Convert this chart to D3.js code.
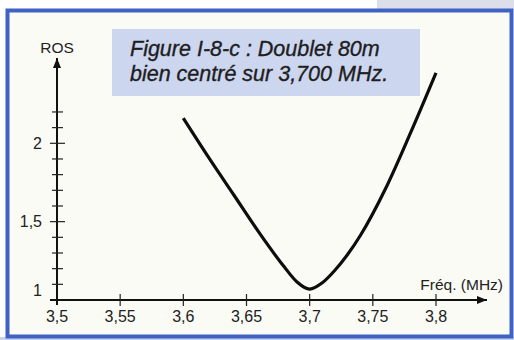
<!DOCTYPE html>
<html>
<head>
<meta charset="utf-8">
<script src="https://cdn.jsdelivr.net/npm/d3@7"></script>
<style>
  html, body { margin: 0; padding: 0; background: #ffffff; }
  svg { display: block; }
</style>
</head>
<body>
<svg id="chart" width="514" height="340"></svg>
<script>
// VSWR (ROS) of an 80 m dipole versus frequency (MHz)
const freq = [3.60, 3.62, 3.64, 3.66, 3.68, 3.69, 3.70, 3.71, 3.72, 3.73, 3.74, 3.76, 3.78, 3.80];
const ros  = [2.16, 1.91, 1.67, 1.43, 1.21, 1.115, 1.07, 1.11, 1.19, 1.29, 1.41, 1.71, 2.07, 2.45];

const xTicks = [3.5, 3.55, 3.6, 3.65, 3.7, 3.75, 3.8];
const xTickLabels = ["3,5", "3,55", "3,6", "3,65", "3,7", "3,75", "3,8"];
const yMinorTicks = [1.1, 1.2, 1.3, 1.4, 1.5, 1.6, 1.7, 1.8, 1.9, 2.0, 2.1, 2.2];
const yTicks = [1, 1.5, 2];
const yTickLabels = ["1", "1,5", "2"];

const titleLines = ["Figure I-8-c : Doublet 80m", "bien centré sur 3,700 MHz."];

const svg = d3.select("#chart");
const font = "'Liberation Sans', Arial, Helvetica, sans-serif";

const x = d3.scaleLinear().domain([3.5, 3.8]).range([57, 436]);
const y = d3.scaleLinear().domain([1, 2]).range([300, 143.3]);

// page band and framed panel
svg.append("rect").attr("x", 377).attr("y", 0).attr("width", 137).attr("height", 10)
  .attr("fill", "#dcdfea");
svg.append("rect").attr("x", 0).attr("y", 337).attr("width", 514).attr("height", 3)
  .attr("fill", "#c9d3ec");
svg.append("rect")
  .attr("x", 7.5).attr("y", 10.5).attr("width", 504).attr("height", 326)
  .attr("fill", "#fbfbf5")
  .attr("stroke", "#3f62c4").attr("stroke-width", 4);

// title box
svg.append("rect").attr("x", 112).attr("y", 29).attr("width", 308).attr("height", 67)
  .attr("fill", "#cdd6ef");
svg.append("g").selectAll("text").data(titleLines).join("text")
  .attr("x", 130).attr("y", (d, i) => 56 + i * 25)
  .attr("font-family", font).attr("font-style", "italic")
  .attr("font-size", 21.5).attr("fill", "#1e1e22")
  .attr("stroke", "#1e1e22").attr("stroke-width", 0.35)
  .text(d => d);

// arrow heads
const defs = svg.append("defs");
defs.append("marker").attr("id", "arrow")
  .attr("viewBox", "0 0 10 8").attr("refX", 10).attr("refY", 4)
  .attr("markerWidth", 10).attr("markerHeight", 8)
  .attr("markerUnits", "userSpaceOnUse").attr("orient", "auto")
  .append("path").attr("d", "M0,0 L10,4 L0,8 Z").attr("fill", "#111");

// x axis
const xAxis = svg.append("g");
xAxis.append("line")
  .attr("x1", 50).attr("x2", 487).attr("y1", y(1)).attr("y2", y(1))
  .attr("stroke", "#111").attr("stroke-width", 2).attr("marker-end", "url(#arrow)");
xAxis.selectAll(".xt").data(xTicks.slice(1)).join("line")
  .attr("x1", d => x(d)).attr("x2", d => x(d))
  .attr("y1", y(1) - 6).attr("y2", y(1) + 6)
  .attr("stroke", "#222").attr("stroke-width", 1.2);
xAxis.selectAll(".xl").data(xTicks).join("text")
  .attr("x", d => x(d)).attr("y", 322)
  .attr("text-anchor", "middle")
  .attr("font-family", font).attr("font-size", 16).attr("fill", "#222")
  .text((d, i) => xTickLabels[i]);
xAxis.append("text").attr("x", 503).attr("y", 290).attr("text-anchor", "end")
  .attr("font-family", font).attr("font-size", 15.5).attr("fill", "#222")
  .text("Fréq. (MHz)");

// y axis
const yAxis = svg.append("g");
yAxis.append("line")
  .attr("x1", x(3.5)).attr("x2", x(3.5)).attr("y1", y(1) + 5).attr("y2", 58)
  .attr("stroke", "#111").attr("stroke-width", 2).attr("marker-end", "url(#arrow)");
yAxis.selectAll(".yt").data(yMinorTicks).join("line")
  .attr("x1", d => x(3.5) - (yTicks.includes(d) ? 7 : 5))
  .attr("x2", d => x(3.5) + (yTicks.includes(d) ? 8 : 6))
  .attr("y1", d => y(d)).attr("y2", d => y(d))
  .attr("stroke", "#222").attr("stroke-width", 1.2);
yAxis.selectAll(".yl").data(yTicks).join("text")
  .attr("x", 42)
  .attr("y", d => y(d) + (d === 1 ? -10 : 0))
  .attr("dy", "0.36em")
  .attr("text-anchor", "end")
  .attr("font-family", font).attr("font-size", 16).attr("fill", "#222")
  .text((d, i) => yTickLabels[i]);
yAxis.append("text").attr("x", x(3.5)).attr("y", 53).attr("text-anchor", "middle")
  .attr("font-family", font).attr("font-size", 15.5).attr("fill", "#222")
  .text("ROS");

// SWR curve
const line = d3.line().x(d => x(d[0])).y(d => y(d[1])).curve(d3.curveMonotoneX);
svg.append("path")
  .datum(freq.map((f, i) => [f, ros[i]]))
  .attr("d", line)
  .attr("fill", "none").attr("stroke", "#0d0d0d")
  .attr("stroke-width", 3.2).attr("stroke-linecap", "butt").attr("stroke-linejoin", "round");
</script>
</body>
</html>
